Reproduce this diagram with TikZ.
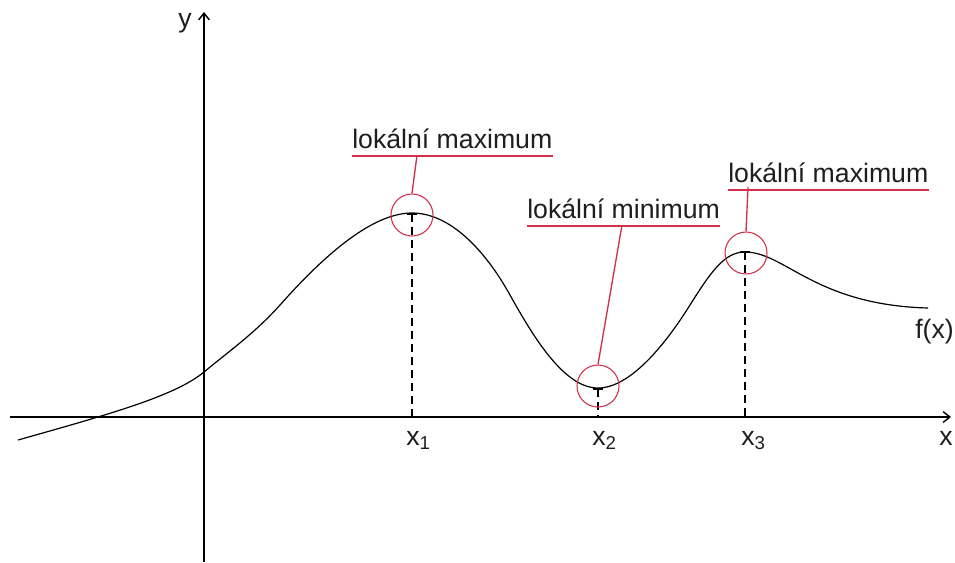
\documentclass[tikz,border=0pt]{standalone}
\usepackage{fontspec}
\setmainfont{Liberation Sans}
\usetikzlibrary{positioning, arrows.meta}
\definecolor{lbred}{HTML}{D2304A}
\definecolor{lbtext}{HTML}{1E1E1E}

\tikzset{
  lbl/.style={anchor=base west, inner sep=0pt, text=lbtext},
  ring/.style={draw=lbred, circle, minimum size=31.5pt, inner sep=0pt, line width=0.8pt},
  redline/.style={lbred, line width=1pt},
  drop/.style={dash pattern=on 6pt off 3.75pt, line width=0.9pt},
  axis/.style={line width=1.1pt, -{Straight Barb[length=5pt, width=8pt]}},
}

\begin{document}
\begin{tikzpicture}[x=0.75pt, y=-0.75pt, font=\fontsize{20}{24}\selectfont]
    \useasboundingbox (0,0) rectangle (955,562);
    % osy
    \coordinate (xs) at (10,417);
    \coordinate (xe) at (951,417);
    \coordinate (ys) at (204,562);
    \coordinate (ye) at (204,12);
    \draw[axis] (xs) -- (xe);
    \draw[axis] (ys) -- (ye);
    \node[lbl] (ylab) at (178,27) {y};
    \node[lbl] (xlab) at (939,445) {x};
    % funkce
    \draw[line width=0.9pt] (18,440)
      .. controls (110,414) and (175,396) .. (204,372)
      .. controls (228,352) and (255,333) .. (280,305)
      .. controls (320,260) and (370,213) .. (412,213)
      .. controls (450,213) and (485,250) .. (510,295)
      .. controls (535,340) and (565,388) .. (598,388)
      .. controls (630,388) and (665,345) .. (690,305)
      .. controls (712,270) and (725,252) .. (745,252)
      .. controls (785,252) and (815,305) .. (928,308);
    \node[lbl] (flab) at (915,338) {f(x)};
    % extremy
    \foreach \n/\px/\py/\bx in {1/412/214/406, 2/598/389/592, 3/745/252/741} {
      \coordinate (top\n) at (\px,\py);
      \coordinate (foot\n) at (\px,417);
      \draw[drop] (top\n) -- (foot\n);
      \draw[line width=0.9pt] ([xshift=-4]top\n) -- ([xshift=4]top\n);
      \node[lbl] (xl\n) at (\bx,445) {x\textsubscript{\n}};
    }
    % krouzky
    \node[ring] (c1) at (412,215) {};
    \node[ring] (c2) at (598,386) {};
    \node[ring] (c3) at (746,253) {};
    % popisky
    \node[lbl] (max1) at (352,148) {lokální maximum};
    \node[lbl] (min1) at (527,218) {lokální minimum};
    \node[lbl] (max2) at (728,182) {lokální maximum};
    \foreach \m in {max1, min1, max2}
      \draw[redline] ([yshift=-6]\m.base west) -- ([yshift=-6]\m.base east);
    \coordinate (u1) at (417,155);
    \coordinate (u2) at (622,225);
    \coordinate (u3) at (748,187);
    \draw[redline] (u1) -- (c1.north);
    \draw[redline] (u2) -- (c2.north);
    \draw[redline] (u3) -- (c3.north);
  \end{tikzpicture}
\end{document}
